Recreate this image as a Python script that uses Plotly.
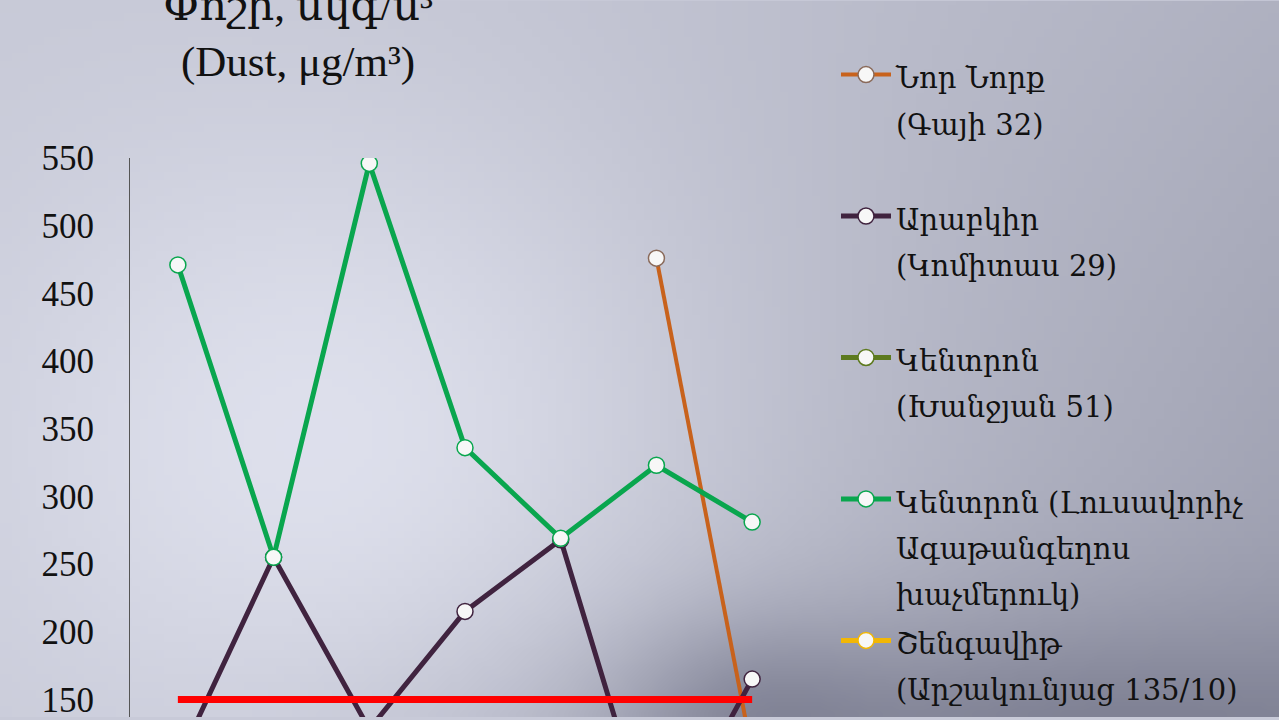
import base64
import struct
import zlib

import numpy as np
import plotly.graph_objects as go

# ─────────────────────────────────────────────
# DATA  (the x labels are cut off in the reference)
# ─────────────────────────────────────────────
points = [1, 2, 3, 4, 5, 6, 7]

nor_nork = [None, None, None, None, None, 476, 110]
arabkir = [104, 255, 128, 215, 268, 35, 165]
kentron_khanjyan = [None] * 7          # below the visible part of the chart
kentron_lusavorich = [471, 255, 546, 336, 269, 323, 281]
shengavit = [None] * 7                 # below the visible part of the chart
norm_limit = [150] * 7

names = [
    "Նոր Նորք|(Գայի 32)",
    "Արաբկիր|(Կոմիտաս 29)",
    "Կենտրոն|(Խանջյան 51)",
    "Կենտրոն (Լուսավորիչ|Ագաթանգեղոս|խաչմերուկ)",
    "Շենգավիթ|(Արշակունյաց 135/10)",
]

y_ticks = [150, 200, 250, 300, 350, 400, 450, 500, 550]

# ─────────────────────────────────────────────
# STYLE
# ─────────────────────────────────────────────
ORANGE = "#c8621c"
PLUM = "#40233f"
OLIVE = "#5d7a1f"
GREEN = "#09a64e"
YELLOW = "#f2b705"
RED = "#ff0000"
SERIF = "Liberation Serif, DejaVu Serif, serif"
ARM_SERIF = "DejaVu Serif, Liberation Serif, serif"


def cloudy_png(w=160, h=90):
    """soft grey/lavender sky backdrop, built as a tiny png"""
    u = np.linspace(0, 1, w)[None, :]
    v = np.linspace(0, 1, h)[:, None]
    base = np.array([198.0, 200.0, 214.0])
    light = 28 * np.exp(-((u - 0.28) ** 2 / 0.09 + (v - 0.62) ** 2 / 0.22))
    right = -38 * u ** 1.6 * (0.6 + 0.5 * v)
    cloud = 42 * np.exp(-((u - 0.78) ** 2 / 0.12 + (v - 1.05) ** 2 / 0.035))
    cloud2 = 25 * np.exp(-((u - 0.58) ** 2 / 0.01 + (v - 1.0) ** 2 / 0.02))
    shade = light + right - cloud - cloud2
    img = base[None, None, :] + shade[:, :, None] * np.array([1.0, 1.0, 0.93])
    img = np.clip(img, 0, 255).astype(np.uint8)
    raw = b"".join(b"\x00" + row.tobytes() for row in img)

    def chunk(tag, data):
        c = struct.pack(">I", len(data)) + tag + data
        return c + struct.pack(">I", zlib.crc32(tag + data) & 0xFFFFFFFF)

    png = b"\x89PNG\r\n\x1a\n"
    png += chunk(b"IHDR", struct.pack(">IIBBBBB", w, h, 8, 2, 0, 0, 0))
    png += chunk(b"IDAT", zlib.compress(raw, 9))
    png += chunk(b"IEND", b"")
    return "data:image/png;base64," + base64.b64encode(png).decode()


def legend_label(txt, pad=True):
    # entries get 3 lines so they sit on an even grid like the original
    lines = txt.split("|")
    while pad and len(lines) < 3:
        lines.append(" ")
    return "<br>".join(f"<span style='font-size:29px'>{ln}</span>" for ln in lines)


fig = go.Figure()

series = [
    (nor_nork, ORANGE, "#8a6a5a", 4),
    (arabkir, PLUM, PLUM, 5),
    (kentron_khanjyan, OLIVE, OLIVE, 5),
    (kentron_lusavorich, GREEN, GREEN, 5),
    (shengavit, YELLOW, YELLOW, 5),
]
for i, ((vals, color, edge, lw), name) in enumerate(zip(series, names)):
    fig.add_trace(go.Scatter(
        x=points, y=vals, name=legend_label(name, pad=i < len(names) - 1),
        mode="lines+markers",
        line=dict(color=color, width=lw),
        marker=dict(size=16, color="#f7f7f7", line=dict(color=edge, width=1.5)),
        connectgaps=False,
    ))

fig.add_trace(go.Scatter(
    x=points, y=norm_limit, mode="lines", showlegend=False,
    line=dict(color=RED, width=7),
))

fig.update_layout(
    width=1279, height=720,
    margin=dict(l=130, r=479, t=158, b=0),
    paper_bgcolor="#c8cad8",
    plot_bgcolor="rgba(0,0,0,0)",
    font=dict(family=SERIF, color="#111111"),
    images=[dict(source=cloudy_png(), xref="paper", yref="paper",
                 x=-130 / 670, y=1 + 158 / 562, sizex=1279 / 670, sizey=720 / 562,
                 xanchor="left", yanchor="top", sizing="stretch", layer="below")],
    legend=dict(
        x=(836 - 130) / 670, y=0,
        xanchor="left", yanchor="bottom",
        bgcolor="rgba(0,0,0,0)",
        font=dict(family=ARM_SERIF, size=35.5, color="#111111"),
        valign="top", itemwidth=50, maxheight=720,
    ),
    annotations=[dict(
        text="Փոշի, մկգ/մ³<br>(Dust, μg/m³)",
        xref="paper", yref="paper",
        x=(298 - 130) / 670, y=1 + (158 - 33) / 562,
        xanchor="center", yanchor="middle", showarrow=False,
        font=dict(family=SERIF, size=43, color="#111111"),
    )],
    showlegend=True,
)

fig.update_xaxes(range=[0.5, 7.5], showticklabels=False, showgrid=False,
                 zeroline=False, showline=False)
fig.update_yaxes(range=[137, 550], tickvals=y_ticks, showgrid=False, zeroline=False,
                 showline=True, linecolor="#555555", linewidth=1,
                 tickfont=dict(family=SERIF, size=35, color="#111111"),
                 ticklabelstandoff=28, ticklabeloverflow="allow")

# page tweaks: no body margin, and clip the "150" label that hangs past the div
page_fix = (
    "var gd=document.getElementById('{plot_id}');"
    "gd.style.overflow='hidden';"
    "document.documentElement.style.overflow='hidden';"
    "document.body.style.overflow='hidden';"
    "document.body.style.margin='0';"
    "window.scrollTo(0,0);"
)
fig.write_html("out.html", config={"displayModeBar": False}, post_script=page_fix)
